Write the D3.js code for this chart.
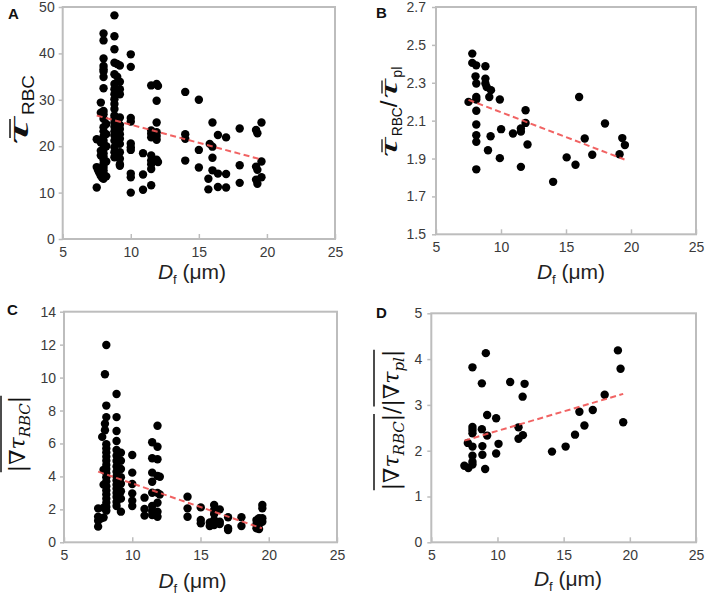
<!DOCTYPE html>
<html><head><meta charset="utf-8">
<script src="https://cdn.jsdelivr.net/npm/d3@7"></script>
<style>body{margin:0;background:#fff}</style>
</head><body><svg id="chart" width="709" height="596"></svg>
<script>
// ---------- data ----------
const xTicks = [5, 10, 15, 20, 25];
const yTicksA = [0, 10, 20, 30, 40, 50];
const yTicksB = [1.5, 1.7, 1.9, 2.1, 2.3, 2.5, 2.7];
const yTicksC = [0, 2, 4, 6, 8, 10, 12, 14];
const yTicksD = [0, 1, 2, 3, 4, 5];

const pointsA = [
 [7.5,11.1],[7.5,15.5],[7.6,14.8],[7.5,21.5],[7.7,14.2],[7.8,13.6],[7.9,13.2],
 [7.8,29.4],[7.8,27.2],[7.8,20.8],[7.8,19.0],[7.8,18.0],
 [8.0,44.3],[8.0,42.8],[8.0,38.9],[8.0,37.3],[8.0,36.6],[8.0,36.1],[8.0,34.9],[8.0,32.5],
 [8.0,27.6],[8.0,26.9],[8.0,25.9],[8.0,24.1],[8.0,23.2],[8.0,22.1],[8.0,21.2],[8.0,20.4],
 [8.0,19.4],[8.0,18.5],[8.0,17.8],[8.0,17.1],[8.0,16.2],[8.0,15.5],[8.0,14.8],[8.0,14.1],[8.0,13.0],
 [8.2,24.8],[8.2,22.6],[8.2,20.0],[8.2,16.7],[8.2,13.5],
 [8.8,48.2],[8.8,43.7],[8.8,40.9],[8.8,38.0],[8.8,35.5],[8.8,33.4],[8.8,32.3],[8.8,31.2],
 [8.8,30.1],[8.8,29.1],[8.8,28.0],[8.8,26.6],[8.8,25.9],[8.8,25.1],[8.8,24.2],[8.8,23.2],
 [8.8,22.3],[8.8,21.2],[8.8,19.8],[8.8,18.7],[8.8,17.6],
 [9.0,37.7],[9.0,35.0],
 [9.2,37.4],[9.2,33.9],[9.2,32.3],[9.2,31.2],[9.2,26.2],[9.2,24.6],[9.2,23.7],[9.2,22.6],
 [9.2,21.6],[9.2,20.5],[9.2,18.7],[9.2,17.3],[9.2,16.1],[9.2,15.8],
 [10.0,39.8],[10.0,37.1],[10.0,26.1],[10.0,25.3],[10.0,20.6],[10.0,19.8],[10.0,19.2],[10.0,14.1],[10.0,13.3],[10.0,10.0],
 [10.9,18.5],[10.9,13.9],[10.9,10.6],
 [11.5,33.1],[11.5,23.4],[11.5,22.7],[11.5,21.9],[11.5,18.0],[11.5,16.9],[11.5,16.1],[11.5,15.1],[11.5,11.6],
 [11.9,33.4],[11.9,29.8],[11.9,25.1],[11.9,23.0],[11.9,22.2],[11.9,21.4],[11.9,17.1],
 [12.0,33.0],[12.0,16.6],
 [14.0,31.7],[15.0,30.0],[16.0,25.1],[18.0,23.8],[19.2,23.5],[19.3,22.8],[19.6,25.1],
 [14.0,22.6],[14.0,21.6],[16.4,22.4],[17.0,21.9],[15.8,20.5],[16.0,19.9],[15.0,19.2],
 [14.0,16.9],[16.0,17.5],[19.6,16.7],[18.0,15.9],[15.0,15.4],[19.2,15.6],[19.3,14.9],
 [16.0,14.8],[16.4,14.1],[17.0,14.0],[15.7,13.0],[19.6,13.3],[19.2,12.8],[19.3,11.9],
 [18.0,12.1],[15.7,10.7],[16.4,11.2],[17.0,11.1]
];
const pointsB = [
 [7.5,2.199],[7.79,2.454],[7.79,2.405],[8.09,2.392],[8.04,2.334],[8.1,2.296],[8.1,2.225],
 [8.1,2.212],[8.1,2.152],[8.1,2.08],[8.1,2.023],[8.1,1.988],[8.1,1.843],
 [8.8,2.387],[8.8,2.322],[8.8,2.296],[8.9,2.278],[9.23,2.261],[9.1,2.225],[9.2,2.018],[9.0,1.944],
 [9.91,2.212],[10.01,2.055],[9.91,1.902],[10.92,2.032],[11.53,2.059],[11.53,2.042],[11.53,1.856],
 [11.89,2.155],[11.89,2.088],[12.04,1.974],[14.01,1.777],[15.05,1.906],[15.73,1.867],
 [16.01,2.225],[16.44,2.006],[17.02,1.92],[18.0,2.085],[19.12,1.923],[19.33,2.008],[19.53,1.971]
];
const pointsC = [
 [7.5,0.95],[7.5,1.31],[7.5,1.56],[7.5,2.06],[7.7,1.45],
 [8.1,11.98],[8.0,10.2],[8.1,8.3],[8.1,7.6],[8.0,7.2],[8.0,6.8],[7.8,6.4],[8.1,5.95],[8.1,5.7],
 [8.1,5.45],[8.1,5.2],[8.1,4.95],[8.1,4.7],[8.1,4.45],[8.1,4.2],[8.1,3.95],[8.1,3.7],[8.1,3.4],
 [8.1,3.15],[8.1,2.9],[8.1,2.65],[8.1,2.4],[8.1,2.15],[8.1,1.92],
 [7.9,4.4],[7.9,3.5],[7.9,2.1],[7.9,1.5],
 [8.85,9.0],[8.85,7.6],[8.85,6.76],[8.85,6.15],[8.85,5.6],[8.85,5.25],[8.85,4.94],[8.85,4.6],
 [8.85,4.29],[8.85,4.0],[8.85,3.75],[8.85,3.5],[8.85,3.25],[8.85,3.0],[8.85,2.75],[8.85,2.45],[8.85,2.2],
 [9.17,5.44],[9.17,4.95],[9.17,4.45],[9.17,3.95],[9.17,3.55],[9.17,3.1],[9.17,2.65],[9.17,1.86],
 [9.05,3.8],[9.05,2.9],
 [10.0,5.3],[10.0,4.23],[10.0,3.54],[10.0,2.97],[10.0,2.53],[10.0,2.2],
 [10.9,2.71],[10.9,2.02],[10.9,1.62],
 [11.46,6.07],[11.46,5.1],[11.46,4.23],[11.46,3.68],[11.46,3.01],[11.46,2.2],[11.46,1.9],[11.46,1.66],
 [11.85,7.08],[11.85,5.8],[11.85,5.04],[11.85,4.03],[11.85,3.0],[11.85,2.4],[11.85,1.86],[11.85,1.55],
 [12.02,3.98],[12.02,2.9],
 [14.05,2.77],[14.05,2.06],[14.05,1.55],
 [15.02,2.12],[15.02,1.35],[15.02,1.15],
 [15.68,0.99],[15.68,1.2],
 [16.0,2.26],[16.0,1.96],[16.0,1.72],[16.0,1.35],[16.0,1.05],
 [16.41,2.0],[16.41,1.25],[16.41,1.11],
 [17.02,1.52],[17.02,0.85],[17.02,0.75],
 [18.0,1.52],[18.0,0.99],
 [19.1,1.35],[19.1,1.1],[19.1,0.85],
 [19.29,1.46],[19.29,1.1],[19.29,0.8],
 [19.53,2.26],[19.53,2.06],[19.53,1.46],[19.53,1.25]
];
const pointsD = [
 [9.12,4.13],[8.11,3.82],[8.82,3.47],[10.96,3.5],[12.05,3.46],[11.9,3.18],[9.22,2.78],[9.9,2.71],
 [8.11,2.52],[8.11,2.45],[8.82,2.47],[8.11,2.38],[9.22,2.33],[11.59,2.51],[11.59,2.26],[11.92,2.34],
 [7.76,2.17],[8.11,2.09],[8.86,2.1],[10.08,2.15],[8.86,1.91],[8.11,1.89],[9.9,1.94],[8.11,1.76],
 [7.5,1.67],[7.8,1.62],[8.11,1.7],[9.07,1.6],[14.12,1.98],[15.15,2.09],[15.86,2.35],[16.57,2.55],
 [16.19,2.85],[17.2,2.89],[18.1,3.22],[19.1,4.19],[19.3,3.79],[19.5,2.62]
];
const fitA = [[7.5,26.6],[19.5,17.2]];
const fitB = [[7.5,2.21],[19.5,1.895]];
const fitC = [[7.5,4.29],[19.5,0.85]];
const fitD = [[7.5,2.22],[19.5,3.24]];

// ---------- drawing ----------
const svg = d3.select("#chart");
const SANS = "'Liberation Sans', Arial, sans-serif";
const SERIF = "'DejaVu Serif', serif";
const TSERIF = "'Liberation Serif', 'DejaVu Serif', serif";
const FRAME = "#bdbdbd";
const TXT = "#3a3a3a";

const panels = [
 {letter:"A", pts:pointsA, fit:fitA, yDom:[0,50], yTicks:yTicksA, fmt:d3.format("d"),
  box:{l:62.7,r:335,t:7,b:239}, letterPos:[8,19], yPad:4, xt:[192,279]},
 {letter:"B", pts:pointsB, fit:fitB, yDom:[1.5,2.7], yTicks:yTicksB, fmt:d3.format(".1f"),
  box:{l:436,r:696,t:7,b:234.3}, letterPos:[376,18], yPad:6, xt:[571,279]},
 {letter:"C", pts:pointsC, fit:fitC, yDom:[0,14], yTicks:yTicksC, fmt:d3.format("d"),
  box:{l:64,r:337,t:311.7,b:542.3}, letterPos:[7,315], yPad:4, xt:[192.5,588]},
 {letter:"D", pts:pointsD, fit:fitD, yDom:[0,5], yTicks:yTicksD, fmt:d3.format("d"),
  box:{l:431.3,r:696,t:313.3,b:542.3}, letterPos:[376,318], yPad:5, xt:[568,586]}
];

panels.forEach(p => {
  const x = d3.scaleLinear().domain([5,25]).range([p.box.l, p.box.r]);
  const y = d3.scaleLinear().domain(p.yDom).range([p.box.b, p.box.t]);
  const g = svg.append("g");

  g.append("rect").attr("x",p.box.l).attr("y",p.box.t)
   .attr("width",p.box.r-p.box.l).attr("height",p.box.b-p.box.t)
   .attr("fill","none").attr("stroke",FRAME).attr("stroke-width",2);

  const ax = g.append("g").attr("transform",`translate(0,${p.box.b})`)
    .call(d3.axisBottom(x).tickValues(xTicks).tickSize(-5).tickPadding(8).tickFormat(d3.format("d")));
  const ay = g.append("g").attr("transform",`translate(${p.box.l},0)`)
    .call(d3.axisLeft(y).tickValues(p.yTicks).tickSize(4).tickPadding(p.yPad).tickFormat(p.fmt));
  [ax,ay].forEach(a=>{
    a.select(".domain").remove();
    a.selectAll("line").attr("stroke",FRAME).attr("stroke-width",1.5);
    a.selectAll("text").attr("fill",TXT).style("font-family",SANS).style("font-size","14px");
  });

  g.append("g").selectAll("circle").data(p.pts).join("circle")
   .attr("cx",d=>x(d[0])).attr("cy",d=>y(d[1])).attr("r",4.2).attr("fill","#000");

  g.append("path").datum(p.fit)
   .attr("d", d3.line().x(d=>x(d[0])).y(d=>y(d[1])))
   .attr("fill","none").attr("stroke","#f05252").attr("stroke-width",2)
   .attr("stroke-dasharray","6,3.5").attr("opacity",0.9);

  g.append("text").attr("x",p.letterPos[0]).attr("y",p.letterPos[1])
   .style("font-family",SANS).style("font-weight","bold").style("font-size","15px")
   .attr("fill","#111").text(p.letter);

  const t = g.append("text").attr("x",p.xt[0]).attr("y",p.xt[1]).attr("text-anchor","middle")
   .style("font-family",SANS).style("font-size","21px").attr("fill","#222");
  t.append("tspan").style("font-style","italic").text("D");
  t.append("tspan").attr("dy",5).style("font-size","13px").text("f");
  t.append("tspan").attr("dy",-5).text(" (μm)");
});

// rotated math labels
function mathLabel(segs, overlines, cx, cy) {
  const g = svg.append("g").attr("transform",`translate(${cx},${cy}) rotate(-90)`);
  let x = 0; const items = [];
  segs.forEach(s => {
    const t = g.append("text").attr("y", s.dy||0)
      .style("font-family", s.ff||SERIF).style("font-size", s.fs+"px")
      .style("font-style", s.it?"italic":"normal").attr("fill","#111").text(s.t);
    if (s.len) t.attr("textLength", s.len).attr("lengthAdjust","spacingAndGlyphs");
    const w = s.len || t.node().getComputedTextLength();
    items.push({t, x0:x, w});
    x += w + (s.sp||0);
  });
  const off = -x/2;
  items.forEach(it => it.t.attr("x", it.x0+off));
  overlines.forEach(o => {
    const a = items[o.from].x0 + off + (o.pl||0);
    const b = items[o.to].x0 + items[o.to].w + off + (o.pr||0);
    g.append("line").attr("x1",a).attr("x2",b).attr("y1",o.y).attr("y2",o.y)
     .attr("stroke","#111").attr("stroke-width",o.sw||1.3);
  });
}

mathLabel([
  {t:"τ", fs:30, ff:TSERIF, it:true, len:27, sp:3},
  {t:"RBC", fs:17, ff:SANS, dy:6, len:40}
], [{from:0,to:0,y:-18,pl:7,pr:-1,sw:1.5}], 28, 110);

mathLabel([
  {t:"τ", fs:26, ff:TSERIF, it:true, len:19, sp:2},
  {t:"RBC", fs:14, ff:SANS, dy:5, len:29},
  {t:"/", fs:24, ff:SANS, sp:2},
  {t:"τ", fs:26, ff:TSERIF, it:true, len:19, sp:2},
  {t:"pl", fs:14, ff:SANS, dy:5}
], [{from:0,to:0,y:-15,pl:5,pr:-1,sw:1.3},{from:3,to:3,y:-15,pl:5,pr:-1,sw:1.3}], 397, 112);

mathLabel([
  {t:"|", fs:22}, {t:"∇", fs:22}, {t:"τ", fs:22, it:true},
  {t:"RBC", fs:15, it:true, dy:5}, {t:"|", fs:22}
], [{from:0,to:4,y:-24,sw:1.5}], 25, 434);

mathLabel([
  {t:"|", fs:22}, {t:"∇", fs:22}, {t:"τ", fs:22, it:true},
  {t:"RBC", fs:15, it:true, dy:5}, {t:"|", fs:22},
  {t:"/", fs:22},
  {t:"|", fs:22}, {t:"∇", fs:22}, {t:"τ", fs:22, it:true},
  {t:"pl", fs:15, it:true, dy:5}, {t:"|", fs:22}
], [{from:0,to:4,y:-25,sw:1.5},{from:6,to:10,y:-25,sw:1.5}], 399, 420);
</script>
</body></html>
